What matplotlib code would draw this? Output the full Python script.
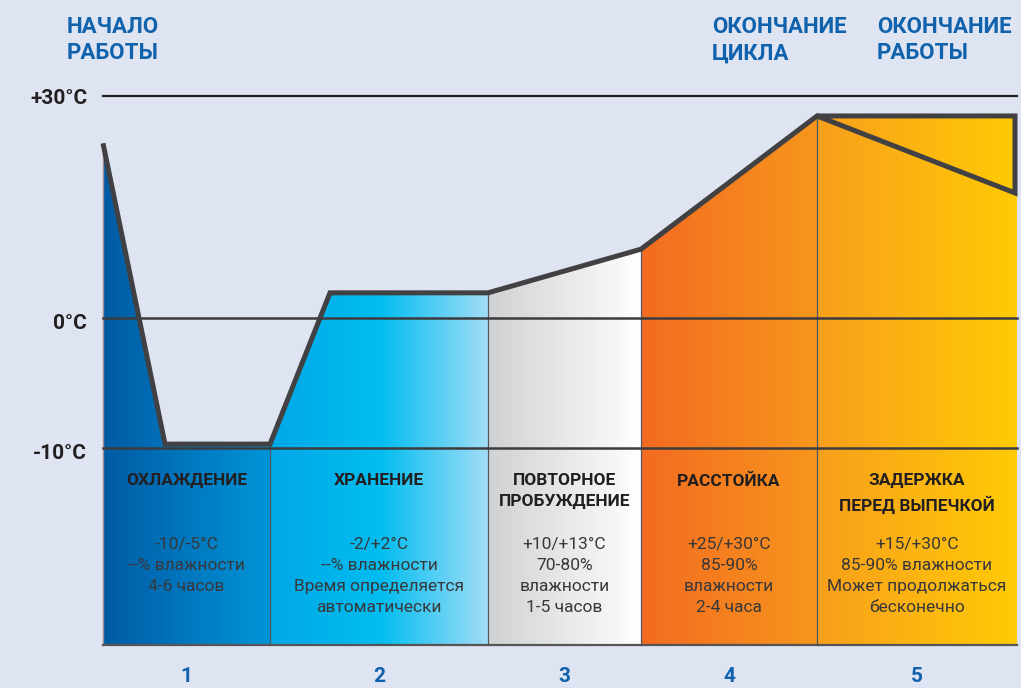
import numpy as np
import matplotlib.pyplot as plt
from matplotlib.colors import LinearSegmentedColormap
from matplotlib.patches import Polygon

# stage layout (x units) and temperature profile
stage_edges = [103, 270, 488, 641, 817, 1017]
profile_x = [103, 165, 270, 330, 488, 641, 817, 1015, 1015, 817]
profile_t = [23.6, -9.7, -9.7, 3.4, 3.4, 9.3, 27.3, 16.9, 27.3, 27.3]
fill_x = [103, 165, 270, 330, 488, 641, 817, 1017]
fill_t = [23.6, -9.7, -9.7, 3.4, 3.4, 9.3, 27.3, 27.3]
bottom_t = -25.15

temp_ticks = [30, 0, -10]
temp_labels = ["+30°C", "0°C", "-10°C"]

stage_numbers = ["1", "2", "3", "4", "5"]
stage_titles = ["ОХЛАЖДЕНИЕ", "ХРАНЕНИЕ", "ПОВТОРНОЕ\nПРОБУЖДЕНИЕ", "РАССТОЙКА",
                "ЗАДЕРЖКА\nПЕРЕД ВЫПЕЧКОЙ"]
stage_notes = [
    "-10/-5°C\n--% влажности\n4-6 часов",
    "-2/+2°C\n--% влажности\nВремя определяется\nавтоматически",
    "+10/+13°C\n70-80%\nвлажности\n1-5 часов",
    "+25/+30°C\n85-90%\nвлажности\n2-4 часа",
    "+15/+30°C\n85-90% влажности\nМожет продолжаться\nбесконечно",
]
stage_colors = [
    ["#005ba4", "#0094d8"],
    ["#00a8e6", "#00bdf0", "#a2ddf7"],
    ["#d0d1d3", "#ffffff"],
    ["#f36b21", "#f7961d"],
    ["#f89f1c", "#ffcb05"],
]

BG = "#dfe4f2"
BLUE = "#0f62ab"
DARK = "#231f20"
FONT = ["Roboto", "DejaVu Sans"]


def fwd(t):
    t = np.asarray(t, dtype=float)
    return np.where(t >= 0, t, t * 13 / 7.4)


def inv(p):
    p = np.asarray(p, dtype=float)
    return np.where(p >= 0, p, p * 7.4 / 13)


plt.rcParams["font.family"] = FONT
fig = plt.figure(figsize=(10.21, 6.88), dpi=100, facecolor=BG)
ax = fig.add_axes([0, 0, 1, 1])
ax.set_facecolor(BG)
ax.set_yscale("function", functions=(fwd, inv))
ax.axis("off")

# gradient fills per stage
for i in range(5):
    x0, x1 = stage_edges[i], stage_edges[i + 1]
    xs = [x0] + [x for x in fill_x if x0 < x < x1] + [x1]
    ts = list(np.interp(xs, fill_x, fill_t))
    poly = Polygon(list(zip(xs, ts)) + [(x1, bottom_t), (x0, bottom_t)],
                   closed=True, facecolor="none", edgecolor="none",
                   transform=ax.transData)
    ax.add_patch(poly)
    cmap = LinearSegmentedColormap.from_list(f"s{i}", stage_colors[i])
    grad = np.linspace(0, 1, 256).reshape(1, -1)
    im = ax.imshow(grad, cmap=cmap, aspect="auto",
                   extent=(x0, x1, bottom_t, max(ts) + 0.5),
                   interpolation="bilinear", zorder=1)
    im.set_clip_path(poly)
    if i > 0:
        ax.plot([x0, x0], [bottom_t, np.interp(x0, fill_x, fill_t)],
                color="#4d5863", lw=0.9, zorder=2)

ax.set_xlim(0, 1021)
ax.set_ylim(-28.46, 42.97)

# left edge and bottom
ax.plot([103, 103], [bottom_t, fill_t[0]], color="#9a8a92", lw=1.0, zorder=3)
ax.plot([103, 1017], [bottom_t, bottom_t], color="#555555", lw=1.6, zorder=3)

# reference lines
ax.plot([103, 1017], [30, 30], color=DARK, lw=1.6, zorder=3)
ax.plot([103, 1017], [0, 0], color="#3c3c3e", lw=1.8, zorder=3)
ax.plot([103, 1017], [-10, -10], color="#3c3c3e", lw=1.8, zorder=3)

# temperature profile
ax.plot(profile_x, profile_t, color="#414042", lw=3.6,
        solid_joinstyle="miter", solid_capstyle="butt", zorder=4)

for t, lab in zip(temp_ticks, temp_labels):
    ax.text(87, t - 0.4, lab, ha="right", va="center", fontsize=15,
            fontweight="bold", color=DARK, zorder=5)

centers = [(stage_edges[i] + stage_edges[i + 1]) / 2 for i in range(5)]
for c, title, note, num in zip(centers, stage_titles, stage_notes, stage_numbers):
    ax.text(c, -11.95, title, ha="center", va="top", fontsize=12.5,
            fontweight="bold", color=DARK, linespacing=1.5, zorder=5)
    ax.text(c, -16.85, note, ha="center", va="top", fontsize=12.5,
            color="#38383a", linespacing=1.5, zorder=5)
    ax.text(c, -27.55, num, ha="center", va="center", fontsize=15,
            fontweight="bold", color=BLUE, zorder=5)

top_labels = [(67, "НАЧАЛО\nРАБОТЫ"), (712, "ОКОНЧАНИЕ\nЦИКЛА"),
              (877, "ОКОНЧАНИЕ\nРАБОТЫ")]
for x, lab in top_labels:
    fig.text(x / 1021, 1 - 16 / 688, lab, ha="left", va="top", fontsize=16,
             fontweight="bold", color=BLUE, linespacing=1.25)

fig.savefig("out.png", dpi=100, facecolor=BG)
